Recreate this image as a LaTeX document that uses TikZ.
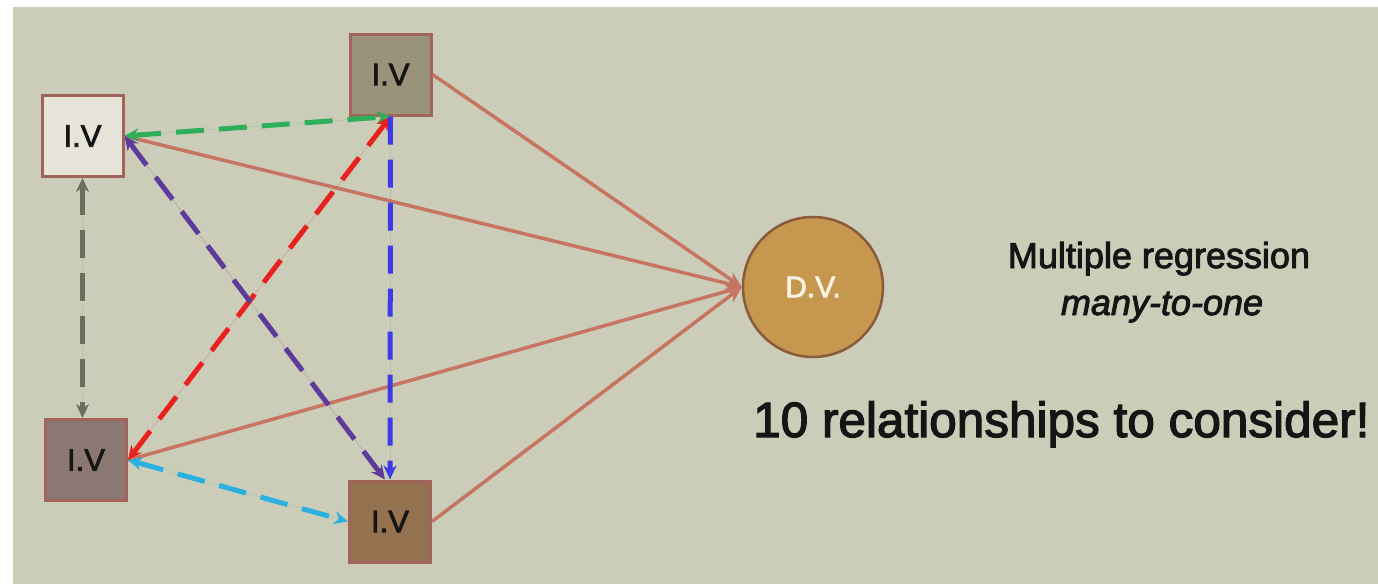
\documentclass[tikz,border=0pt]{standalone}
\usepackage{fontspec}
\setmainfont{Liberation Sans}
\newfontfamily\heavyfont[FakeBold=2.5]{Liberation Sans}
\usetikzlibrary{arrows.meta}
\definecolor{bgc}{HTML}{CBCDB9}
\definecolor{boxline}{HTML}{A0645A}
\definecolor{afill}{HTML}{E6E4D8}
\definecolor{bfill}{HTML}{9B927A}
\definecolor{cfill}{HTML}{8B7873}
\definecolor{dfill}{HTML}{94714F}
\definecolor{dvfill}{HTML}{C5974F}
\definecolor{dvline}{HTML}{8A5A3A}
\definecolor{salmon}{HTML}{C87462}
\definecolor{cgreen}{HTML}{2EAF5A}
\definecolor{cred}{HTML}{E8201E}
\definecolor{cblue}{HTML}{3B3BE8}
\definecolor{cpurple}{HTML}{5E3A9A}
\definecolor{cgray}{HTML}{6B6E5E}
\definecolor{ccyan}{HTML}{2BB0E0}
\definecolor{dvtext}{HTML}{FAF2E0}
\definecolor{ink}{HTML}{151515}
\begin{document}
\begin{tikzpicture}[x=1pt,y=-1pt,
  ivbox/.style={draw=boxline,line width=3pt,minimum size=81pt,inner sep=0pt,font=\heavyfont\fontsize{31}{33}\selectfont,text=ink},
  rel/.style={line width=5pt,dash pattern=on 28pt off 15pt,{Stealth[length=14pt,width=13pt]}-{Stealth[length=14pt,width=13pt]}},
  relone/.style={line width=5pt,dash pattern=on 28pt off 15pt,-{Stealth[length=14pt,width=13pt]}},
  pred/.style={draw=salmon,line width=3.5pt,-{Stealth[length=16pt,width=14pt]}}]
\useasboundingbox (0,0) rectangle (1378,584);
\fill[white] (0,0) rectangle (1378,584);
\fill[bgc] (13,7) rectangle (1378,584);
% nodes
\node[ivbox,fill=afill] (A) at (82.5,136) {I.V};
\node[ivbox,fill=bfill] (B) at (390.5,74.5) {I.V};
\node[ivbox,fill=cfill] (C) at (86,460) {I.V};
\node[ivbox,fill=dfill] (D) at (390,521.5) {I.V};
\node[circle,draw=dvline,line width=2.5pt,fill=dvfill,minimum size=140pt,inner sep=0pt,text=dvtext,font=\heavyfont\fontsize{30}{32}\selectfont] (DV) at (813,287) {D.V.};
% predictor arrows
\draw[pred] (B.east) -- (DV.west);
\draw[pred] (A.east) -- (DV.west);
\draw[pred] (C.east) -- (DV.west);
\draw[pred] (D.east) -- (DV.west);
% relationships among IVs
\draw[rel,draw=cgreen,fill=cgreen] (A.east) -- (B.south);
\draw[rel,draw=cred,fill=cred] (C.east) -- (B.south);
\draw[relone,draw=cblue,fill=cblue] (B.south) -- (D.north);
\draw[rel,draw=cpurple,fill=cpurple] (A.east) -- ([xshift=-5pt]D.north);
\draw[rel,draw=cgray,fill=cgray] (A.south) -- (A.south |- C.north);
\draw[rel,draw=ccyan,fill=ccyan] (C.east) -- (D.west);
% texts
\node[anchor=base,font=\heavyfont\fontsize{36}{40}\selectfont,text=ink] (t1) at (1159,268) {Multiple regression};
\node[anchor=base,font=\heavyfont\fontsize{36}{40}\selectfont\itshape,text=ink] (t2) at (1162,315) {many-to-one};
\node[anchor=base west,inner sep=0pt,font=\heavyfont\fontsize{49.5}{52}\selectfont,text=ink] (t3) at (753,437) {10 relationships to consider!};
\end{tikzpicture}
\end{document}
